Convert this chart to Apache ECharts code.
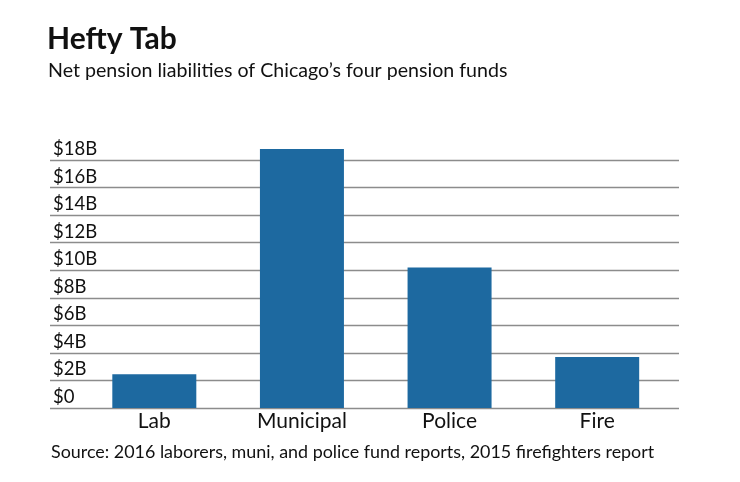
<!DOCTYPE html>
<html>
<head>
<meta charset="utf-8">
<script src="https://cdn.jsdelivr.net/npm/echarts@6/dist/echarts.min.js"></script>
<style>
html,body{margin:0;padding:0;background:#fff;}
#chart{width:740px;height:482px;}
</style>
</head>
<body>
<div id="chart"></div>
<script>
const categories = ['Lab', 'Municipal', 'Police', 'Fire'];
const liabilities = [2.45, 18.8, 10.2, 3.7]; // $ billions
const yTicks = [0, 2, 4, 6, 8, 10, 12, 14, 16, 18];
const titleText = 'Hefty Tab';
const subtitleText = 'Net pension liabilities of Chicago\u2019s four pension funds';
const sourceText = 'Source: 2016 laborers, muni, and police fund reports, 2015 firefighters report';

const FONT = 'Lato, "Noto Sans", sans-serif';
const chart = echarts.init(document.getElementById('chart'));
chart.setOption({
  animation: false,
  backgroundColor: '#fff',
  grid: [
    {left: 50, right: 61, top: 160, bottom: 74},
    {left: 80.5, right: 69, top: 160, bottom: 74}
  ],
  xAxis: [
    {gridIndex: 0, type: 'value', min: 0, max: 1, show: false},
    {gridIndex: 1, type: 'category', data: categories,
     axisLine: {show: false}, axisTick: {show: false},
     axisLabel: {color: '#111', fontFamily: FONT, fontSize: 21, margin: 3}}
  ],
  yAxis: [
    {gridIndex: 0, type: 'value', min: yTicks[0], max: yTicks[yTicks.length - 1], interval: 2,
     axisLine: {show: false}, axisTick: {show: false},
     splitLine: {show: true, lineStyle: {color: '#8c8c8c', width: 1.3}},
     axisLabel: {inside: true, margin: 3, color: '#111', fontFamily: FONT, fontSize: 18.5,
       verticalAlign: 'bottom', lineHeight: 19, padding: [0, 0, 1.5, 0],
       formatter: v => v === 0 ? '$0' : '$' + v + 'B'}},
    {gridIndex: 1, type: 'value', min: yTicks[0], max: yTicks[yTicks.length - 1], interval: 2, show: false}
  ],
  series: [{
    type: 'bar', xAxisIndex: 1, yAxisIndex: 1, clip: false,
    data: liabilities, barWidth: 84,
    itemStyle: {color: '#1d69a0'}
  }],
  graphic: [
    {type: 'text', x: 47, y: 39, style: {text: titleText, font: 'bold 30px ' + FONT, fill: '#111', verticalAlign: 'middle'}},
    {type: 'text', x: 48, y: 71, style: {text: subtitleText, font: '19.6px ' + FONT, fill: '#111', verticalAlign: 'middle'}},
    {type: 'text', x: 51, y: 452, style: {text: sourceText, font: '17.9px ' + FONT, fill: '#111', verticalAlign: 'middle'}}
  ]
});
</script>
</body>
</html>
